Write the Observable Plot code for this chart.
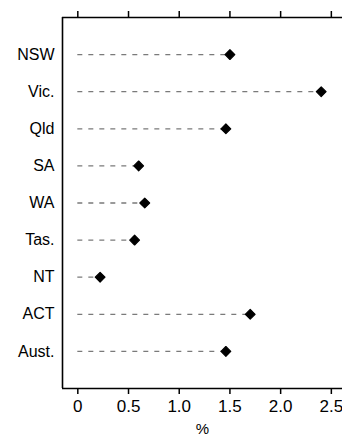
<!DOCTYPE html>
<html>
<head>
<meta charset="utf-8">
<script src="https://cdn.jsdelivr.net/npm/d3@7"></script>
<script src="https://cdn.jsdelivr.net/npm/@observablehq/plot@0.6"></script>
<style>
  html, body { margin: 0; padding: 0; background: #fff; overflow: hidden; }
  #chart svg { display: block; overflow: visible; }
</style>
</head>
<body>
<div id="chart"></div>
<script>
const states = ["NSW", "Vic.", "Qld", "SA", "WA", "Tas.", "NT", "ACT", "Aust."];
const values = [1.50, 2.40, 1.46, 0.60, 0.66, 0.56, 0.22, 1.70, 1.46];
const xTicks = [0, 0.5, 1.0, 1.5, 2.0, 2.5];
const xLabel = "%";

const data = states.map((s, i) => ({state: s, row: i + 1, value: values[i]}));
const rows = data.map(d => d.row);
const font = "'Liberation Sans', Arial, sans-serif";
const xMin = -0.151, xMax = 2.61, yTop = 0, yBottom = 10;
const tickLen = 0.162; // in row units (~6px)

const chart = Plot.plot({
  width: 342,
  height: 435,
  marginLeft: 62,
  marginRight: 0,
  marginTop: 17,
  marginBottom: 47,
  style: {fontFamily: font, fontSize: "16px", color: "#000", background: "#fff", overflow: "visible"},
  x: {domain: [xMin, xMax]},
  y: {domain: [yTop, yBottom], reverse: true},
  marks: [
    Plot.ruleY(data, {y: "row", x1: 0, x2: "value", stroke: "#7a7a7a", strokeWidth: 1.3, strokeDasharray: "5,6"}),
    Plot.dot(data, {y: "row", x: "value", symbol: "diamond2", r: 4.4, fill: "#000", stroke: "#000", strokeWidth: 1.2, strokeLinejoin: "round"}),
    Plot.ruleX(xTicks, {x: d => d, y1: yTop, y2: yTop - tickLen, stroke: "#000", strokeWidth: 1.5}),
    Plot.axisX({anchor: "bottom", ticks: xTicks, tickSize: 6, tickPadding: 5, strokeWidth: 1.5,
      tickFormat: d => d === 0 ? "0" : d.toFixed(1), fontSize: 17, label: null}),
    Plot.text([xLabel], {frameAnchor: "bottom", dy: 45, fontSize: 15, text: d => d}),
    Plot.axisY({ticks: rows, tickFormat: r => states[r - 1], tickSize: 0, tickPadding: 8, label: null, fontSize: 16}),
    Plot.ruleX([xMin], {y1: yTop, y2: yBottom, stroke: "#000", strokeWidth: 1.6}),
    Plot.ruleY([yTop, yBottom], {x1: xMin, x2: xMax, stroke: "#000", strokeWidth: 1.6})
  ]
});
document.getElementById("chart").appendChild(chart);
</script>
</body>
</html>
